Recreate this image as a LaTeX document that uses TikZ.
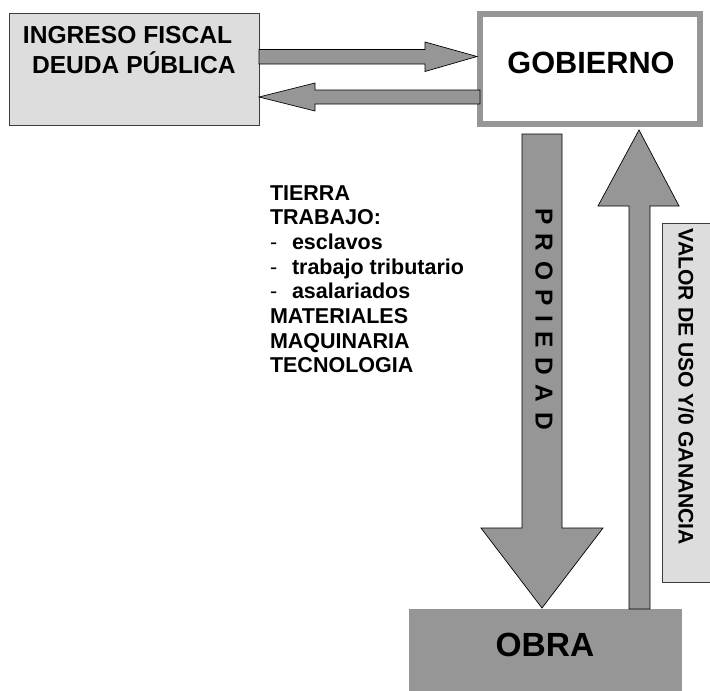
\documentclass[tikz,border=0pt]{standalone}
\usepackage{fontspec}
\setmainfont{Liberation Sans}
\definecolor{arrowgray}{RGB}{150,150,150}
\definecolor{boxgray}{RGB}{221,221,221}
\definecolor{edgegray}{RGB}{60,60,60}
\begin{document}
\begin{tikzpicture}[x=1pt,y=-1pt,
  blockarrow/.style={fill=arrowgray,draw=black,line width=0.7pt,line join=miter},
  lightbox/.style={fill=boxgray,draw=edgegray,line width=1pt},
  lbl/.style={inner sep=0pt,outer sep=0pt,font=\bfseries}]
\useasboundingbox (0,0) rectangle (710,691);
% boxes
\path[lightbox] (9,13) rectangle (259,125);
\node[lbl,anchor=base west,font=\bfseries\fontsize{24.6}{24.6}\selectfont] (ing1) at (23,43) {INGRESO FISCAL};
\node[lbl,anchor=base west,font=\bfseries\fontsize{24.6}{24.6}\selectfont] (ing2) at (32,73) {DEUDA PÚBLICA};
\draw[draw=arrowgray,fill=white,line width=6.5pt] (480,14) rectangle (700,124);
\node[lbl,anchor=base,font=\bfseries\fontsize{30.7}{30.7}\selectfont] (gob) at (591,73) {GOBIERNO};
\fill[arrowgray] (409,609) rectangle (682,695);
\node[lbl,anchor=base,font=\bfseries\fontsize{33.5}{33.5}\selectfont] (obra) at (545,656) {OBRA};
\path[lightbox] (662,223) rectangle (716,582);
\node[lbl,rotate=-90,font=\bfseries\fontsize{21.1}{21.1}\selectfont] (valor) at (686,387) {VALOR DE USO Y/0 GANANCIA};
% arrows
\path[blockarrow] (259,49.5) -- (425,49.5) -- (425,42) -- (477,56.5) -- (425,71.5) -- (425,64) -- (259,64) -- cycle;
\path[blockarrow] (480,90) -- (315,90) -- (315,83) -- (259,97) -- (315,111) -- (315,104) -- (480,104) -- cycle;
\path[blockarrow] (522,134) -- (562,134) -- (562,528) -- (603,528) -- (542,608) -- (481,528) -- (522,528) -- cycle;
\path[blockarrow] (629,609) -- (629,206) -- (598,206) -- (639,130) -- (679,206) -- (650,206) -- (650,609) -- cycle;
\node[lbl,rotate=-90,font=\bfseries\fontsize{24.5}{24.5}\selectfont] (prop) at (544,319)
  {P\hspace{9.5pt}R\hspace{9.5pt}O\hspace{9.5pt}P\hspace{9.5pt}I\hspace{9.5pt}E\hspace{9.5pt}D\hspace{9.5pt}A\hspace{9.5pt}D};
% list
\tikzset{listtext/.style={lbl,anchor=base west,font=\bfseries\fontsize{21.5}{21.5}\selectfont},
  dashtext/.style={inner sep=0pt,anchor=base west,font=\fontsize{21.5}{21.5}\selectfont}}
\node[listtext] (l1) at (270,200) {TIERRA};
\node[listtext] (l2) at (270,224.7) {TRABAJO:};
\node[dashtext] (d3) at (270,249.4) {-};
\node[listtext] (l3) at (292,249.4) {esclavos};
\node[dashtext] (d4) at (270,274.1) {-};
\node[listtext] (l4) at (292,274.1) {trabajo tributario};
\node[dashtext] (d5) at (270,298.8) {-};
\node[listtext] (l5) at (292,298.8) {asalariados};
\node[listtext] (l6) at (270,323.5) {MATERIALES};
\node[listtext] (l7) at (270,348.2) {MAQUINARIA};
\node[listtext] (l8) at (270,372.9) {TECNOLOGIA};
\end{tikzpicture}
\end{document}
